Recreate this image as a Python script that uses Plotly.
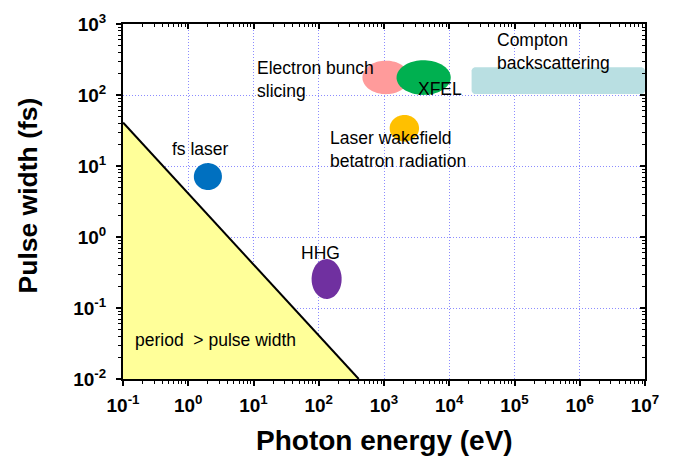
import numpy as np
import plotly.graph_objects as go

# ---- data ----
x_ticks = [0.1, 1, 10, 100, 1e3, 1e4, 1e5, 1e6, 1e7]
x_ticktext = ["10<sup>-1</sup>", "10<sup>0</sup>", "10<sup>1</sup>", "10<sup>2</sup>", "10<sup>3</sup>",
              "10<sup>4</sup>", "10<sup>5</sup>", "10<sup>6</sup>", "10<sup>7</sup>"]
y_ticks = [0.01, 0.1, 1, 10, 100, 1000]
y_ticktext = ["10<sup>-2</sup>", "10<sup>-1</sup>", "10<sup>0</sup>", "10<sup>1</sup>", "10<sup>2</sup>", "10<sup>3</sup>"]
minor_digits = [2, 3, 4, 5, 6, 7, 8, 9]

x_title = "Photon energy (eV)"
y_title = "Pulse width (fs)"

# period > pulse width region (T = h/E)
period_energy = [0.1, 0.1, 410]
period_width = [0.01, 41, 0.01]

# sources: centre energy (eV), centre pulse width (fs), half-size in decades (x, y)
src_names = ["Electron bunch slicing", "XFEL", "Laser wakefield", "fs laser", "HHG"]
src_energy = [1070, 4050, 2050, 2.0, 132]
src_width = [177, 176, 34, 7.1, 0.256]
src_dx = [0.36, 0.415, 0.225, 0.215, 0.23]
src_dy = [0.236, 0.244, 0.187, 0.19, 0.281]
src_colors = ["#FF9B9B", "#00B050", "#FFC000", "#0070C0", "#7030A0"]

# Compton backscattering band
compton_energy = [22000, 1e7]
compton_width = [103, 246]
compton_color = "#B9DFE2"

# labels
labels = ["Electron bunch<br>slicing", "XFEL", "Compton<br>backscattering",
          "Laser wakefield<br>betatron radiation", "fs laser", "HHG", "period  &gt; pulse width"]
label_x = [10.6, 7200, 50000, 140, 1.55, 108, 0.141]
label_y = [163, 122, 404, 16.9, 17.5, 0.60, 0.036]
label_anchor = ["left", "center", "left", "left", "center", "center", "left"]

FONT = "Liberation Sans, Arial, Helvetica, sans-serif"

fig = go.Figure()

# shaded region
fig.add_trace(go.Scatter(x=period_energy, y=period_width, fill="toself", fillcolor="#FFFF99",
                         mode="none", hoverinfo="skip", showlegend=False))
fig.add_trace(go.Scatter(x=period_energy[1:], y=period_width[1:], mode="lines",
                         line=dict(color="black", width=2), hoverinfo="skip", showlegend=False))

# Compton rounded band
lx0, lx1 = np.log10(compton_energy)
ly0, ly1 = np.log10(compton_width)
rx, ry = 0.06, 0.055
pts = []
corners = [(lx1 - rx, ly1 - ry, 0), (lx0 + rx, ly1 - ry, 90), (lx0 + rx, ly0 + ry, 180), (lx1 - rx, ly0 + ry, 270)]
for cx, cy, a0 in corners:
    for a in np.linspace(a0, a0 + 90, 8):
        t = np.radians(a)
        pts.append((cx + rx * np.cos(t), cy + ry * np.sin(t)))
pts.append(pts[0])
fig.add_trace(go.Scatter(x=[10 ** p[0] for p in pts], y=[10 ** p[1] for p in pts], fill="toself",
                         fillcolor=compton_color, mode="none", hoverinfo="skip", showlegend=False))

# ellipses
t = np.linspace(0, 2 * np.pi, 80)
for n, e, w, dx, dy, c in zip(src_names, src_energy, src_width, src_dx, src_dy, src_colors):
    ex = 10 ** (np.log10(e) + dx * np.cos(t))
    ey = 10 ** (np.log10(w) + dy * np.sin(t))
    fig.add_trace(go.Scatter(x=ex, y=ey, fill="toself", fillcolor=c, mode="none", name=n,
                             hoverinfo="skip", showlegend=False))

# dummy trace for mirrored axes
fig.add_trace(go.Scatter(x=[1], y=[1], xaxis="x2", yaxis="y2", mode="markers",
                         marker=dict(opacity=0), hoverinfo="skip", showlegend=False))

for txt, x, y, an in zip(labels, label_x, label_y, label_anchor):
    fig.add_annotation(x=np.log10(x), y=np.log10(y), text=txt, showarrow=False, xanchor=an,
                       yanchor="middle", align="left", font=dict(family=FONT, size=17.5, color="black"))

# axis titles
fig.add_annotation(xref="paper", yref="paper", x=0.5, y=-0.173, text=x_title, showarrow=False,
                   xanchor="center", yanchor="middle",
                   font=dict(family=FONT, size=28, color="black", weight="bold"))
fig.add_annotation(xref="paper", yref="paper", x=-0.182, y=0.517, text=y_title, showarrow=False,
                   textangle=-90, xanchor="center", yanchor="middle",
                   font=dict(family=FONT, size=26.5, color="black", weight="bold"))

x_minor = [d * 10.0 ** k for k in range(-1, 7) for d in minor_digits]
y_minor = [d * 10.0 ** k for k in range(-2, 3) for d in minor_digits]

tickfont = dict(family=FONT, size=19, color="black", weight="bold")
grid = dict(showgrid=True, gridcolor="#8C8CFF", griddash="1px,2px", gridwidth=1)

common = dict(ticklen=5, tickwidth=1.5, tickcolor="black", showline=True, linecolor="black",
              linewidth=2, zeroline=False)

fig.update_layout(
    width=677, height=459,
    margin=dict(l=123, r=32, t=24, b=80),
    plot_bgcolor="white", paper_bgcolor="white",
    xaxis=dict(type="log", range=[-1, 7], tickvals=x_ticks, ticktext=x_ticktext, tickfont=tickfont,
               ticks="outside", ticklabelstandoff=3,
               minor=dict(tickvals=x_minor, ticks="outside", ticklen=3, tickwidth=1, tickcolor="black",
                          showgrid=False),
               **common, **grid),
    yaxis=dict(type="log", range=[-2, 3], tickvals=y_ticks, ticktext=y_ticktext, tickfont=tickfont,
               ticks="outside", ticklabelstandoff=6,
               minor=dict(tickvals=y_minor, ticks="outside", ticklen=3, tickwidth=1, tickcolor="black",
                          showgrid=False),
               **common, **grid),
    xaxis2=dict(type="log", range=[-1, 7], overlaying="x", side="top", tickvals=x_ticks,
                showticklabels=False, ticks="inside",
                minor=dict(tickvals=x_minor, ticks="inside", ticklen=3, tickwidth=1, tickcolor="black",
                           showgrid=False),
                showgrid=False, **common),
    yaxis2=dict(type="log", range=[-2, 3], overlaying="y", side="right", tickvals=y_ticks,
                showticklabels=False, ticks="inside",
                minor=dict(tickvals=y_minor, ticks="inside", ticklen=3, tickwidth=1, tickcolor="black",
                           showgrid=False),
                showgrid=False, **common),
)

fig.write_html("out.html")
